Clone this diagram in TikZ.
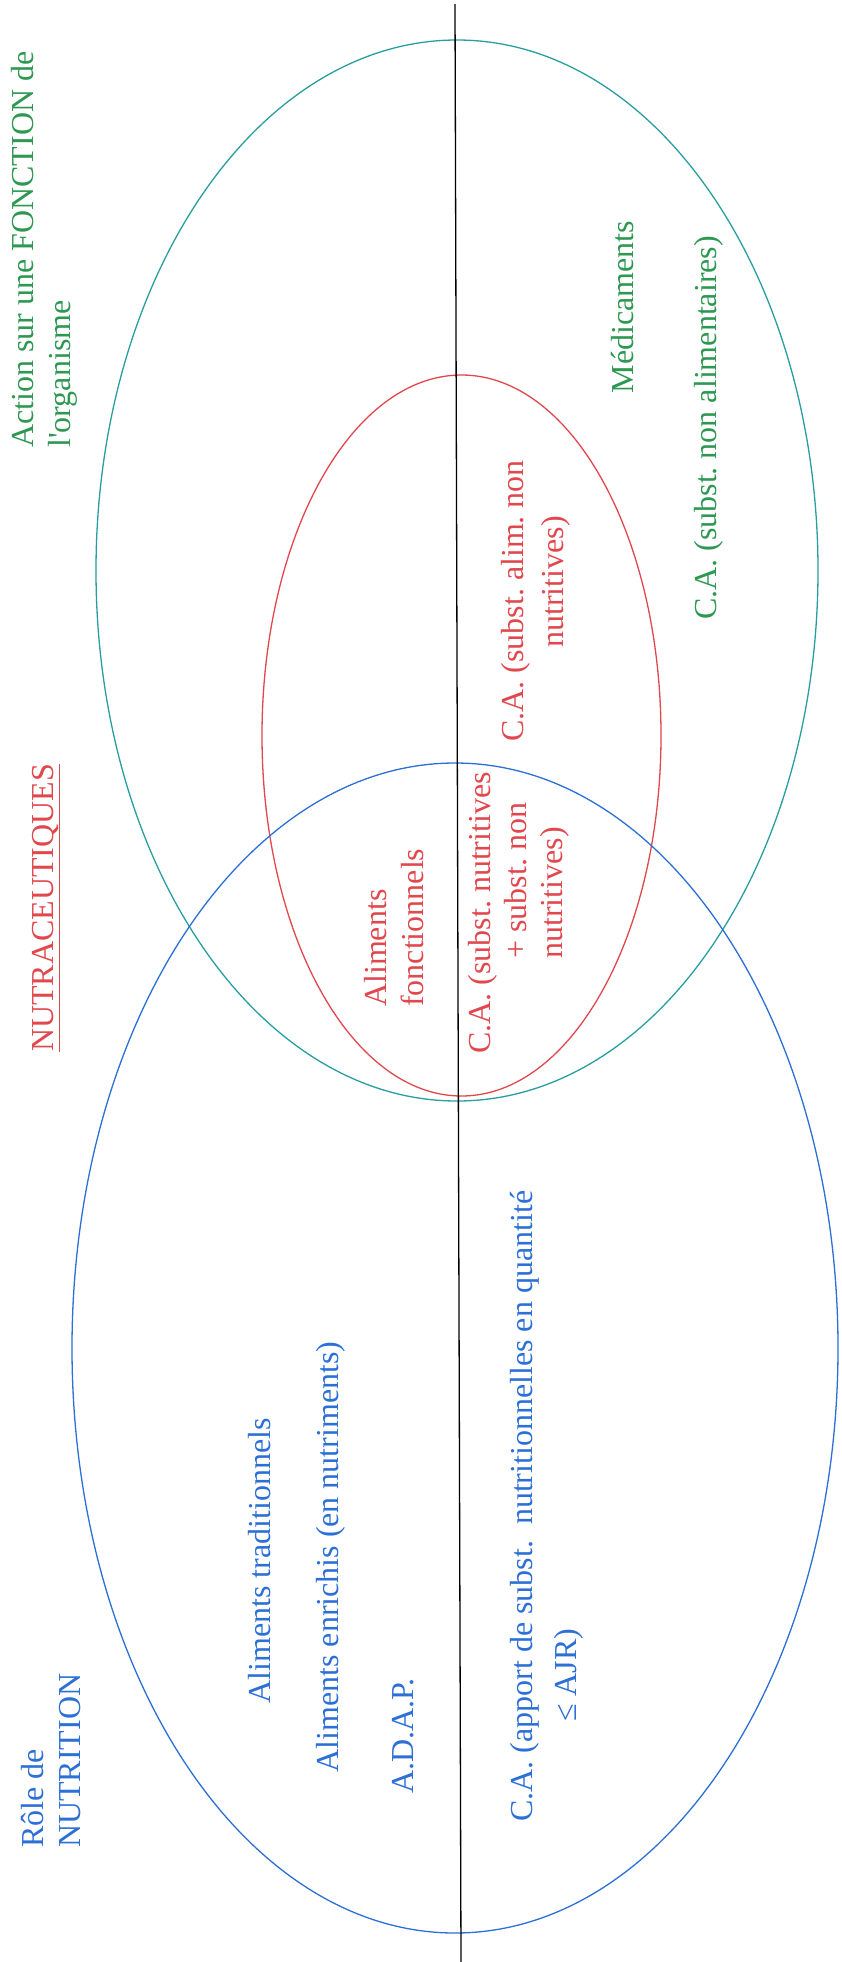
\documentclass[tikz,border=0pt]{standalone}
\usepackage{fontspec}
\setmainfont{Liberation Serif}
\AtBeginDocument{\frenchspacing}
\definecolor{tgreen}{RGB}{46,152,82}
\definecolor{tteal}{RGB}{40,158,160}
\definecolor{tred}{RGB}{224,72,78}
\definecolor{tblue}{RGB}{44,112,214}
\begin{document}
\begin{tikzpicture}[x=1pt,y=-1pt,
  lbl/.style={rotate=90, inner sep=0pt, font=\fontsize{32}{37}\selectfont},
  ell/.style={line width=1.3pt}]
\useasboundingbox (0,0) rectangle (841,1962);
\fill[white] (0,0) rectangle (841,1962);
% ellipses
\draw[ell, tteal] (457,570.5) ellipse [x radius=361, y radius=530.5];
\draw[ell, tred] (461.5,735.5) ellipse [x radius=199.5, y radius=360.5];
\draw[ell, tblue] (455,1348) ellipse [x radius=383, y radius=585];
% axis
\coordinate (ltop) at (455,4);
\coordinate (lbot) at (461,1962);
\draw[line width=1.3pt] (ltop) -- (lbot);
% texts (base anchor of a multi-line node = baseline of its last line)
\node[lbl, tgreen, anchor=base west, align=left] (action) at (70,448) {Action sur une FONCTION de\\l\textquotesingle organisme};
\node[lbl, tred, anchor=base west] (nutra) at (53,1052) {\underline{NUTRACEUTIQUES}};
\node[lbl, tgreen, anchor=base] (medic) at (633,307) {Médicaments};
\node[lbl, tgreen, anchor=base] (cagreen) at (716,428) {C.A. (subst. non alimentaires)};
\node[lbl, tred, anchor=base west, align=left] (cared1) at (563,742) {C.A. (subst. alim. non\\[3pt]\hspace*{94pt}nutritives)};
\node[lbl, tred, anchor=base west, align=left] (alimf) at (423,1007) {Aliments\\fonctionnels};
\node[lbl, tred, anchor=base west, align=left] (cared2) at (562,1054) {C.A. (subst. nutritives\\[-1pt]\hspace*{95pt}+ subst. non\\[-1pt]\hspace*{95pt}nutritives)};
\node[lbl, tblue, anchor=base west, align=left] (role) at (80,1848) {Rôle de\\NUTRITION};
\node[lbl, tblue, anchor=base] (trad) at (270,1561) {Aliments traditionnels};
\node[lbl, tblue, anchor=base] (enr) at (338,1557) {Aliments enrichis (en nutriments)};
\node[lbl, tblue, anchor=base west] (adap) at (413,1794) {A.D.A.P.};
\node[lbl, tblue, anchor=base west, align=left] (cablue) at (576,1822) {C.A. (apport de subst.\ \ nutritionnelles en quantité\\[7pt]\hspace*{100pt}≤ AJR)};
\end{tikzpicture}
\end{document}
